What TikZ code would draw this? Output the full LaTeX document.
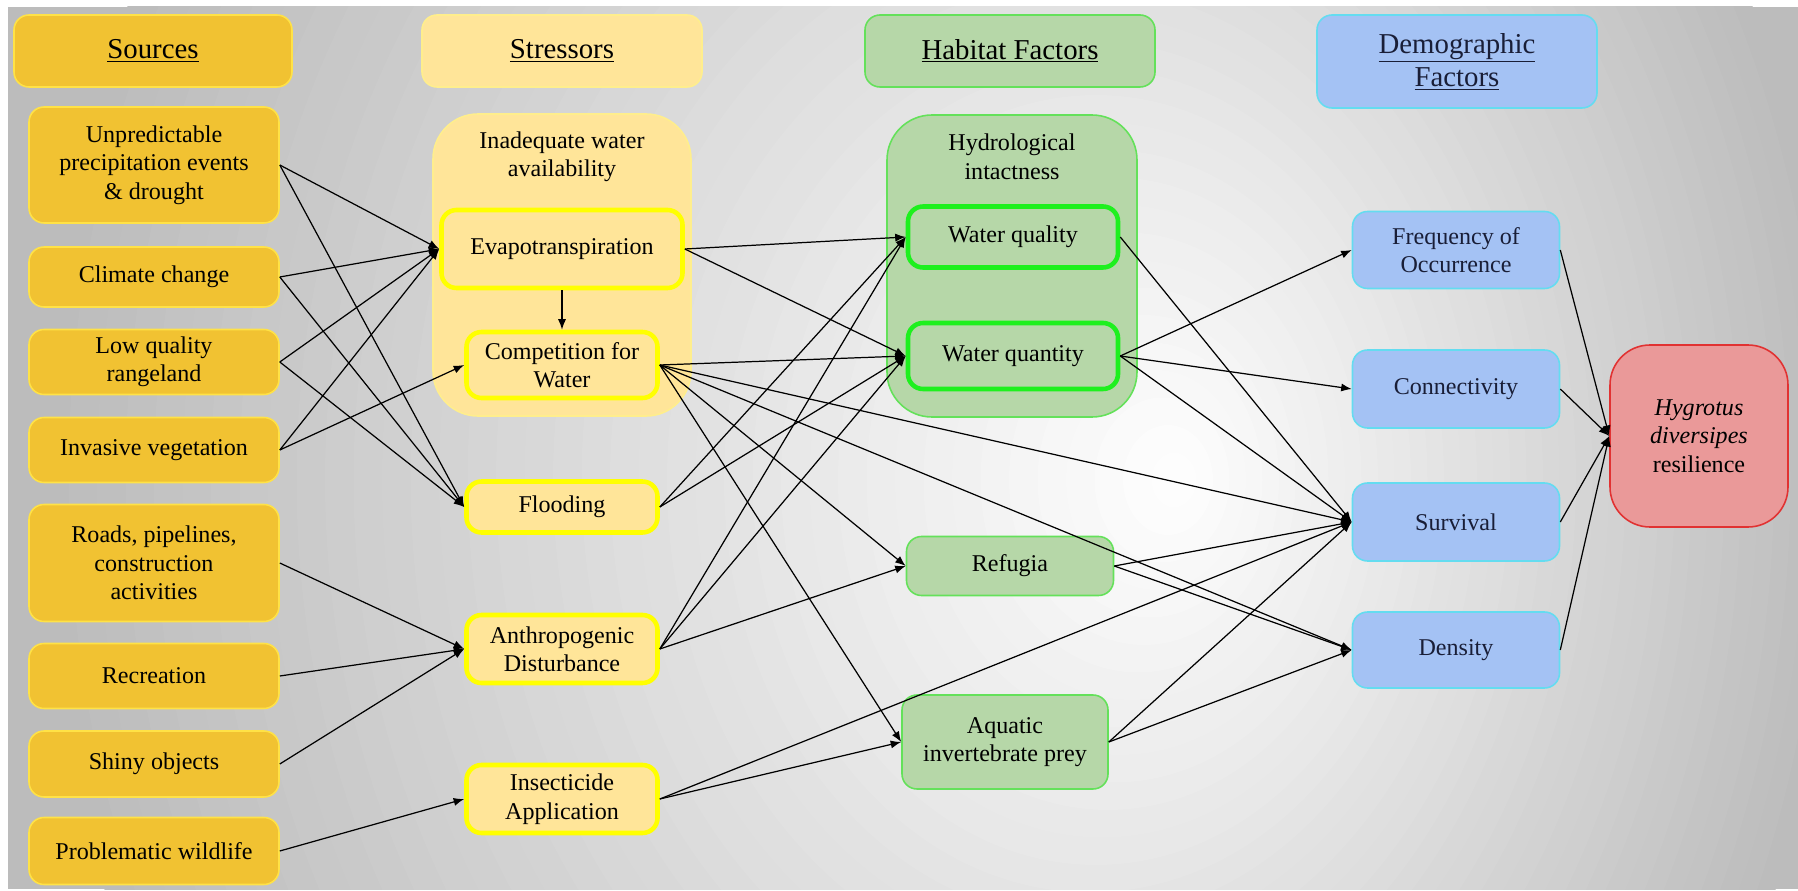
\documentclass[tikz,border=0pt]{standalone}
\usepackage{fontspec}
\setmainfont{Liberation Serif}
\usetikzlibrary{arrows.meta}
\definecolor{srcfill}{RGB}{241,194,50}
\definecolor{srcline}{RGB}{255,226,70}
\definecolor{strfill}{RGB}{255,229,153}
\definecolor{strline}{RGB}{255,238,140}
\definecolor{strbold}{RGB}{255,255,0}
\definecolor{habfill}{RGB}{182,215,168}
\definecolor{habline}{RGB}{100,225,90}
\definecolor{habbold}{RGB}{30,240,30}
\definecolor{demfill}{RGB}{164,194,244}
\definecolor{demline}{RGB}{100,220,240}
\definecolor{demtext}{RGB}{25,30,55}
\definecolor{goalfill}{RGB}{234,153,153}
\definecolor{goalline}{RGB}{225,50,50}
\definecolor{bggray}{RGB}{188,188,188}
\tikzset{>={Latex[length=6pt,width=4.6pt]}}
\tikzset{box/.style={rounded corners=.3cm, align=center, inner sep=0pt, line width=.9pt,
  font=\fontsize{13.7}{16.2}\selectfont}}
\tikzset{head/.style={minimum height=1.44cm, font=\fontsize{16.4}{18.8}\selectfont}}
\tikzset{srcbox/.style={box, draw=srcline, fill=srcfill, minimum width=5cm}}
\tikzset{strbox/.style={box, draw=strbold, fill=strfill, line width=2.6pt, minimum width=3.82cm}}
\tikzset{habbox/.style={box, draw=habline, fill=habfill}}
\tikzset{habbold/.style={box, draw=habbold, fill=habfill, line width=2.6pt, minimum width=4.2cm}}
\tikzset{dembox/.style={box, draw=demline, fill=demfill, text=demtext, minimum width=4.14cm}}
\tikzset{link/.style={->, line width=.7pt}}

\begin{document}
\begin{tikzpicture}
    \useasboundingbox (0, 0) rectangle (35.96, -17.82);
    % background glow, lightest right of the habitat column
    \fill[bggray](0.16, -0.14) rectangle (35.96, -17.78);
    \begin{scope}
        \clip(0.16, -0.14) rectangle (35.96, -17.78);
        \foreach \k [evaluate=\k as \p using 2.5*\k] in {40, 39, ..., 1}
            \fill[bggray!\p!white]({23.6-0.12*\k}, -9.6) ellipse ({0.45*\k} and {0.55*\k});
    \end{scope}

    % column headers
    \node[srcbox, head, minimum width=5.56cm] (hSrc) at (3.06, -1.02) {\underline{Sources}};
    \node[box, draw=strline, fill=strfill, head, minimum width=5.6cm] (hStr) at (11.24, -1.02) {\underline{Stressors}};
    \node[habbox, head, minimum width=5.8cm] (hHab) at (20.2, -1.02) {\underline{Habitat Factors}};
    \node[dembox, head, minimum width=5.6cm, minimum height=1.86cm] (hDem) at (29.14, -1.23) {\underline{Demographic}\\\underline{Factors}};

    % sources
    \node[srcbox, minimum height=2.32cm] (src1) at (3.08, -3.3) {Unpredictable\\precipitation events\\\& drought};
    \node[srcbox, minimum height=1.2cm] (src2) at (3.08, -5.54) {Climate change};
    \node[srcbox, minimum height=1.3cm] (src3) at (3.08, -7.24) {Low quality\\rangeland};
    \node[srcbox, minimum height=1.3cm] (src4) at (3.08, -9) {Invasive vegetation};
    \node[srcbox, minimum height=2.34cm] (src5) at (3.08, -11.26) {Roads, pipelines,\\construction\\activities};
    \node[srcbox, minimum height=1.3cm] (src6) at (3.08, -13.52) {Recreation};
    \node[srcbox, minimum height=1.32cm] (src7) at (3.08, -15.28) {Shiny objects};
    \node[srcbox, minimum height=1.34cm] (src8) at (3.08, -17.02) {Problematic wildlife};

    % stressors
    \node[box, draw=strline, fill=strfill, rounded corners=.9cm, minimum width=5.16cm, minimum height=6.04cm] (grpWater) at (11.24, -5.3) {};
    \node[box] (lblWater) at (11.24, -3.14) {Inadequate water\\availability};
    \node[strbox, minimum width=4.82cm, minimum height=1.56cm] (evapo) at (11.24, -4.98) {Evapotranspiration};
    \node[strbox, minimum height=1.32cm] (comp) at (11.24, -7.3) {Competition for\\Water};
    \node[strbox, minimum height=1.02cm] (flood) at (11.24, -10.14) {Flooding};
    \node[strbox, minimum height=1.36cm] (anthro) at (11.24, -12.98) {Anthropogenic\\Disturbance};
    \node[strbox, minimum height=1.36cm] (insect) at (11.24, -15.98) {Insecticide\\Application};

    % habitat factors
    \node[habbox, rounded corners=.9cm, minimum width=5cm, minimum height=6.04cm] (grpHydro) at (20.24, -5.32) {};
    \node[box] (lblHydro) at (20.24, -3.14) {Hydrological\\intactness};
    \node[habbold, minimum height=1.22cm] (wqual) at (20.26, -4.74) {Water quality};
    \node[habbold, minimum height=1.32cm] (wquant) at (20.26, -7.12) {Water quantity};
    \node[habbox, minimum width=4.14cm, minimum height=1.18cm] (refugia) at (20.2, -11.32) {Refugia};
    \node[habbox, minimum width=4.12cm, minimum height=1.88cm] (prey) at (20.1, -14.84) {Aquatic\\invertebrate prey};

    % demographic factors
    \node[dembox, minimum height=1.54cm] (freq) at (29.12, -5) {Frequency of\\Occurrence};
    \node[dembox, minimum height=1.56cm] (conn) at (29.12, -7.78) {Connectivity};
    \node[dembox, minimum height=1.56cm] (surv) at (29.12, -10.44) {Survival};
    \node[dembox, minimum height=1.52cm] (dens) at (29.12, -13) {Density};

    % resilience
    \node[box, draw=goalline, fill=goalfill, rounded corners=.8cm, minimum width=3.56cm, minimum height=3.64cm] (hyg) at (33.98, -8.72) {\textit{Hygrotus}\\\textit{diversipes}\\resilience};

    % links
    \draw[link](evapo.south)--(comp.north);
    \foreach \a/\b in {src1/evapo, src1/flood, src2/evapo, src2/flood, src3/evapo, src3/flood,
        src4/evapo, src4/comp, src5/anthro, src6/anthro, src7/anthro, src8/insect,
        evapo/wqual, evapo/wquant, comp/wquant, comp/refugia, comp/prey, comp/surv, comp/dens,
        flood/wqual, flood/wquant, anthro/wqual, anthro/wquant, anthro/refugia,
        insect/prey, insect/surv, wqual/surv, wquant/freq, wquant/conn, wquant/surv,
        refugia/surv, refugia/dens, prey/surv, prey/dens,
        freq/hyg, conn/hyg, surv/hyg, dens/hyg}
        \draw[link](\a.east)--(\b.west);
\end{tikzpicture}
\end{document}
